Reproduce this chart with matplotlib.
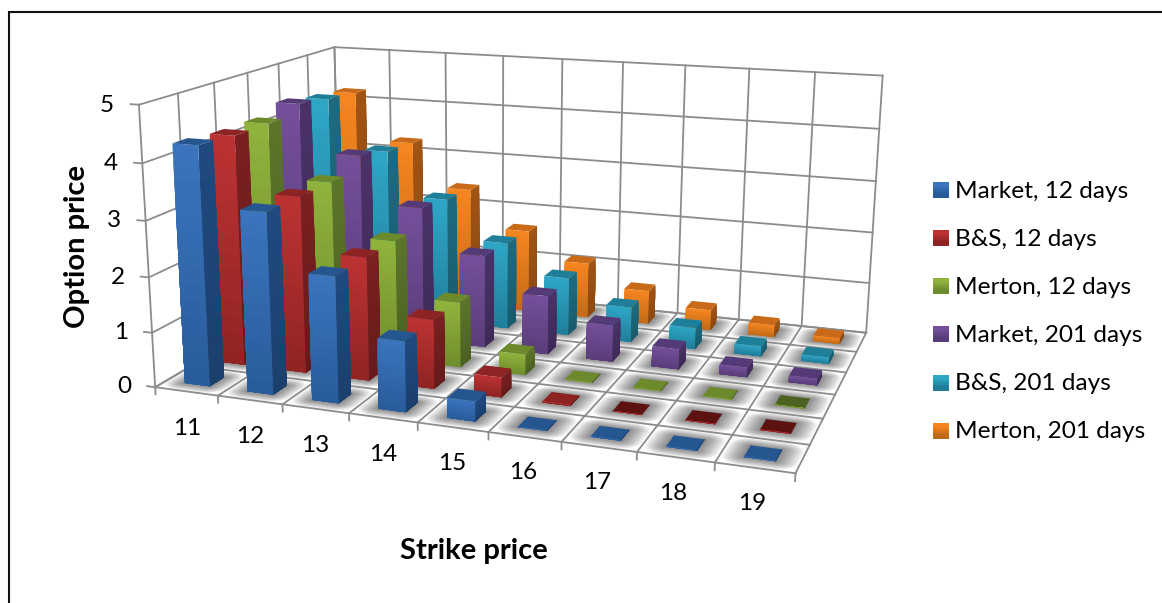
# Option prices by strike, drawn as a 3D column chart with a fixed camera
import matplotlib
matplotlib.use('Agg')
import matplotlib.pyplot as plt
import numpy as np
from matplotlib.colors import to_rgb
from mpl_toolkits.mplot3d.art3d import Poly3DCollection

plt.rcParams['font.family'] = ['Lato', 'DejaVu Sans']

# Data
strikes = [11, 12, 13, 14, 15, 16, 17, 18, 19]
series_names = ['Market, 12 days', 'B&S, 12 days', 'Merton, 12 days',
                'Market, 201 days', 'B&S, 201 days', 'Merton, 201 days']
market_12 = [4.30, 3.25, 2.25, 1.25, 0.35, 0.01, 0.01, 0.01, 0.01]
bs_12 = [4.24, 3.24, 2.26, 1.26, 0.36, 0.02, 0.01, 0.01, 0.01]
merton_12 = [4.24, 3.24, 2.25, 1.22, 0.38, 0.01, 0.01, 0.01, 0.01]
market_201 = [4.40, 3.49, 2.58, 1.77, 1.12, 0.69, 0.38, 0.18, 0.12]
bs_201 = [4.29, 3.33, 2.47, 1.71, 1.13, 0.68, 0.41, 0.19, 0.12]
merton_201 = [4.22, 3.27, 2.40, 1.65, 1.10, 0.66, 0.40, 0.23, 0.11]
all_series = [market_12, bs_12, merton_12, market_201, bs_201, merton_201]
y_ticks = [0, 1, 2, 3, 4, 5]

# Colours per series: front top, front bottom, top face, side top, side bottom
palette = [
    ('#3b74bd', '#285a98', '#25568f', '#1f4a80', '#1b3f6c'),
    ('#bb3232', '#8f2323', '#8e2323', '#7a2020', '#661a1a'),
    ('#8fb23c', '#6e8c2d', '#6c8a2c', '#5c752a', '#4a5f22'),
    ('#734f99', '#583c78', '#553a78', '#4a3268', '#3d2957'),
    ('#2ea5c5', '#1f7d98', '#1f7f99', '#1d6a80', '#195a6c'),
    ('#f58520', '#c06a18', '#c86a17', '#a05414', '#8a4810'),
]
# Almost flat columns that catch less light: (series, strike index) -> top colour
dark_tops = {(1, 6): '#5d1212', (1, 7): '#5d1212', (1, 8): '#5d1212', (2, 8): '#4a6120'}
grid_color = '#8c8c8c'
clear = (0, 0, 0, 0)

# Pixel positions of known box points, used to solve the camera matrix
box_points = [
    (0, 0, 0, 156, 387), (9, 0, 0, 795, 473), (9, 6, 0, 867, 333), (0, 6, 0, 340, 277),
    (0, 0, 5, 139, 104), (0, 6, 5, 334, 47), (9, 6, 5, 883, 75),
    (2, 6, 5, 446, 55), (6, 6, 5, 686, 65), (8, 6, 5, 815, 72),
    (3, 0, 0, 350, 415), (6, 0, 0, 561, 442), (0, 3, 5, 247, 73),
    (9, 6, 1, 869, 283), (9, 6, 3, 875, 181), (0, 0, 3, 146, 220), (0, 0, 1, 151, 333),
]


def solve_camera(points):
    rows = []
    for x, y, z, u, v in points:
        u, v = u / 1000, v / 1000
        rows.append([x, y, z, 1, 0, 0, 0, 0, -u * x, -u * y, -u * z, -u])
        rows.append([0, 0, 0, 0, x, y, z, 1, -v * x, -v * y, -v * z, -v])
    cam = np.linalg.svd(np.array(rows))[2][-1].reshape(3, 4)
    if cam[2, 3] < 0:
        cam = -cam
    return np.diag([1000, 1000, 1]) @ cam


W, H = 1162, 603
fig = plt.figure(figsize=(W / 100, H / 100), dpi=100)
camera = solve_camera(box_points)


def project(x, y, z):
    u, v, w = camera @ np.array([x, y, z, 1])
    return u / w, v / w


# 3D axes keep a square box, so make the square wide enough to hold the whole figure
ax = fig.add_axes([0, (1 - W / H) / 2, 1, W / H], projection='3d', computed_zorder=False)
ax.set_axis_off()
ax.patch.set_visible(False)


def fixed_proj():
    # pixels (y down) -> display -> the 2D coordinates of the 3D axes
    flip = np.array([[1, 0, 0], [0, -1, H], [0, 0, 1]], dtype=float)
    to_view = ax.transData.inverted().get_matrix() @ flip
    cam = to_view @ camera
    return np.array([cam[0], cam[1], [0, 0, 0, -1], cam[2]])


ax.get_proj = fixed_proj
ax.set_xlim(0, 9)
ax.set_ylim(0, 6)
ax.set_zlim(0, 5)


def line3d(xs, ys, zs, lw=1.3):
    ax.plot(xs, ys, zs, color=grid_color, lw=lw, zorder=2, solid_capstyle='projecting')


# Walls and floor
for z in y_ticks:
    line3d([0, 0, 9], [0, 6, 6], [z, z, z])
    line3d([-0.13, 0], [0, 0], [z, z])
for i in range(10):
    line3d([i, i], [6, 6], [0, 5])
    line3d([i, i], [0, 6], [0, 0])
    line3d([i, i], [0, 0], [0, -0.13])
for s in range(7):
    line3d([0, 0], [s, s], [0, 5])
    line3d([0, 9], [s, s], [0, 0])

bar_w = 0.4
offset = 0.3


def shadow_outline(x0, y0, w, m):
    # rounded rectangle on the floor, m outside the column base
    t = np.linspace(0, np.pi / 2, 6)
    pts = []
    for cx, cy, start in [(x0 + w, y0 + w, 0), (x0, y0 + w, np.pi / 2),
                          (x0, y0, np.pi), (x0 + w, y0, 1.5 * np.pi)]:
        pts += [(cx + m * np.cos(a + start), cy + m * np.sin(a + start), 0) for a in t]
    return pts


# Soft shadows go under the grid lines
for s in range(len(all_series)):
    for i in range(len(strikes)):
        for m in np.linspace(0.27, 0.02, 10):
            poly = Poly3DCollection([shadow_outline(i + offset, s + offset, bar_w, m)],
                                    facecolor=(0, 0, 0, 0.055), edgecolor='none', zorder=1)
            ax.add_collection3d(poly)

# Columns, back series first and left to right. The gradient comes from nested
# columns, tallest first, each shorter one a little darker.
n_steps = 14
order = 10
for s, values in reversed(list(enumerate(all_series))):
    front_top, front_bot, top_face, side_top, side_bot = [np.array(to_rgb(c)) for c in palette[s]]
    for i, val in enumerate(values):
        top_rgb = to_rgb(dark_tops.get((s, i), palette[s][2]))
        for k in range(n_steps):
            f = 1 - k / n_steps
            front = tuple(front_bot + (front_top - front_bot) * f) + (1,)
            side = tuple(side_bot + (side_top - side_bot) * f) + (1,)
            top = top_rgb + (1,) if k == 0 else clear
            # face order in bar3d: -z, +z, -y, +y, -x, +x
            colors = [clear, top, front, clear, clear, side]
            ax.bar3d(i + offset, s + offset, 0, bar_w, bar_w, val * f, color=colors,
                     edgecolor='none', linewidth=0, shade=False, zorder=order)
            order += 1

# Flat layer in pixels for the frame, tick labels, axis titles and legend
ov = fig.add_axes([0, 0, 1, 1], zorder=5)
ov.axis('off')
ov.plot([9, 9, W], [H, 12, 12], color='#111111', lw=1.5, solid_joinstyle='miter')

for z in y_ticks:
    px, py = project(-0.5, 0, z)
    ov.text(px, py + 3, str(z), fontsize=17.5, ha='center', va='center')
for i, k in enumerate(strikes):
    # the label gap tightens slightly towards the right
    px, py = project(i + 0.5, 0, -0.68 + 0.011 * i)
    ov.text(px - 1, py, str(k), fontsize=17.5, ha='center', va='center')

ov.text(77, 246, 'Option price', rotation=90, fontsize=21, fontweight='bold',
        ha='center', va='center')
ov.text(474, 551, 'Strike price', fontsize=21, fontweight='bold', ha='center', va='center')

legend_y = [190, 238, 286.5, 334.5, 383, 431]
for name, c, y in zip(series_names, palette, legend_y):
    grad = np.array([[to_rgb(c[0])], [to_rgb(c[1])]])
    ov.imshow(grad, extent=(933, 949, y + 8, y - 8), interpolation='bilinear', aspect='auto')
    ov.text(955, y + 1, name, fontsize=17.6, ha='left', va='center')
ov.set_xlim(0, W)
ov.set_ylim(H, 0)

fig.savefig('out.png', dpi=100)
